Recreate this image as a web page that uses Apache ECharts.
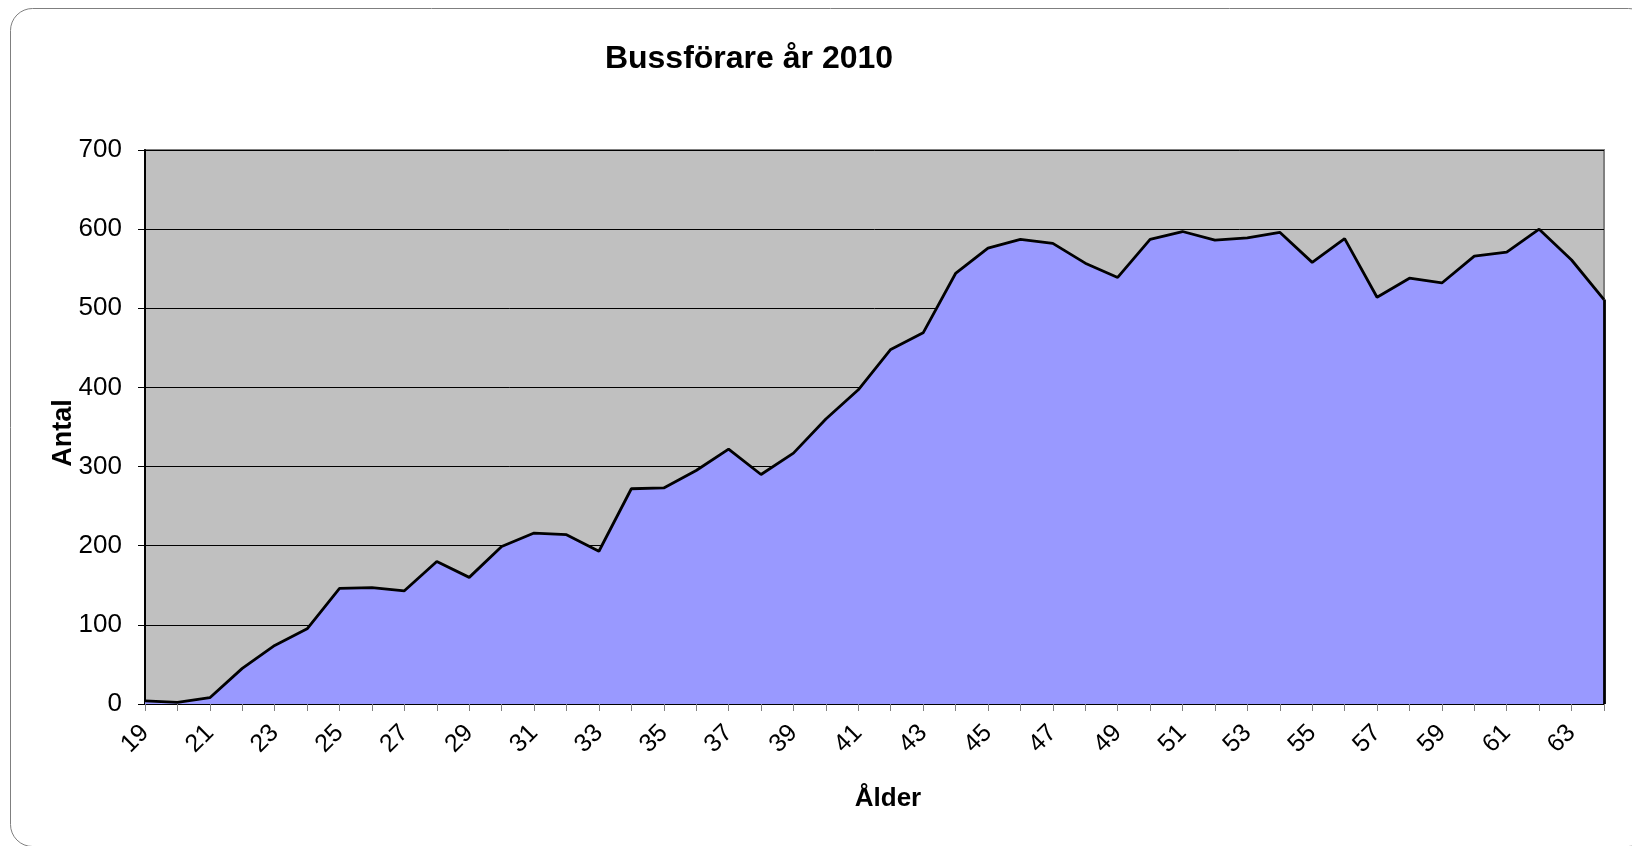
<!DOCTYPE html>
<html>
<head>
<meta charset="utf-8">
<title>Bussförare år 2010</title>
<script src="https://cdn.jsdelivr.net/npm/echarts@6/dist/echarts.min.js"></script>
<style>
  html, body { margin: 0; padding: 0; background: #fff; }
  #chart { width: 1632px; height: 846px; }
</style>
</head>
<body>
<div id="chart"></div>
<script>
// ages 19..64
var ages = [];
for (var a = 19; a <= 64; a++) ages.push(String(a));

// number of drivers per age
var antal = [
    4, 2, 8, 45, 74, 95, 146, 147, 143, 180,
    160, 199, 216, 214, 193, 272, 273, 295, 322, 290,
    317, 360, 397, 448, 469, 544, 576, 587, 582, 557,
    539, 587, 597, 586, 589, 596, 558, 588, 514, 538,
    532, 566, 571, 600, 561, 511
];

var yTicks = { min: 0, max: 700, step: 100 };

var font = '"Liberation Sans", Arial, sans-serif';

var chart = echarts.init(document.getElementById('chart'));

chart.setOption({
    backgroundColor: '#ffffff',
    animation: false,
    graphic: [{
        type: 'rect',
        silent: true,
        shape: { x: 10.5, y: 8.5, width: 1640, height: 838, r: 22 },
        style: { fill: 'none', stroke: '#7f7f7f', lineWidth: 1 }
    }],
    title: {
        text: 'Bussförare år 2010',
        left: 744,
        textAlign: 'center',
        top: 38,
        textStyle: {
            fontFamily: font,
            fontWeight: 'bold',
            fontSize: 32,
            color: '#000'
        }
    },
    grid: {
        left: 145,
        right: 28,
        top: 150,
        bottom: 142,
        show: true,
        backgroundColor: '#c0c0c0',
        borderColor: '#808080',
        borderWidth: 2
    },
    xAxis: {
        type: 'category',
        data: ages,
        boundaryGap: false,
        name: 'Ålder',
        nameLocation: 'middle',
        nameGap: 82,
        nameMoveOverlap: false,
        nameTextStyle: {
            fontFamily: font,
            fontWeight: 'bold',
            fontSize: 26,
            color: '#000',
            padding: [0, 0, 0, 27]
        },
        axisLine: { lineStyle: { color: '#000', width: 2 } },
        axisTick: {
            interval: 0,
            length: 7,
            lineStyle: { color: '#808080', width: 1 }
        },
        axisLabel: {
            interval: 1,
            rotate: 45,
            margin: 25,
            fontFamily: font,
            fontSize: 25,
            color: '#000'
        },
        splitLine: { show: false }
    },
    yAxis: {
        type: 'value',
        min: yTicks.min,
        max: yTicks.max,
        interval: yTicks.step,
        name: 'Antal',
        nameLocation: 'middle',
        nameGap: 68,
        nameMoveOverlap: false,
        nameTextStyle: {
            fontFamily: font,
            fontWeight: 'bold',
            fontSize: 27,
            color: '#000',
            padding: [0, 12, 0, 0]
        },
        axisLine: { show: true, lineStyle: { color: '#000', width: 2 } },
        axisTick: {
            show: true,
            length: 7,
            lineStyle: { color: '#000', width: 1 }
        },
        axisLabel: {
            margin: 23,
            fontFamily: font,
            fontSize: 26,
            color: '#000'
        },
        splitLine: { show: true, lineStyle: { color: '#000', width: 1 } }
    },
    series: [{
        name: 'Antal',
        type: 'line',
        data: antal,
        symbol: 'none',
        lineStyle: { color: '#000', width: 2.8 },
        areaStyle: { color: '#9999ff', opacity: 1 },
        markLine: {
            silent: true,
            symbol: 'none',
            label: { show: false },
            lineStyle: { color: '#000', width: 2.8, type: 'solid' },
            data: [[
                { coord: [ages[ages.length - 1], 0] },
                { coord: [ages[ages.length - 1], antal[antal.length - 1]] }
            ]]
        }
    }]
});
</script>
</body>
</html>
